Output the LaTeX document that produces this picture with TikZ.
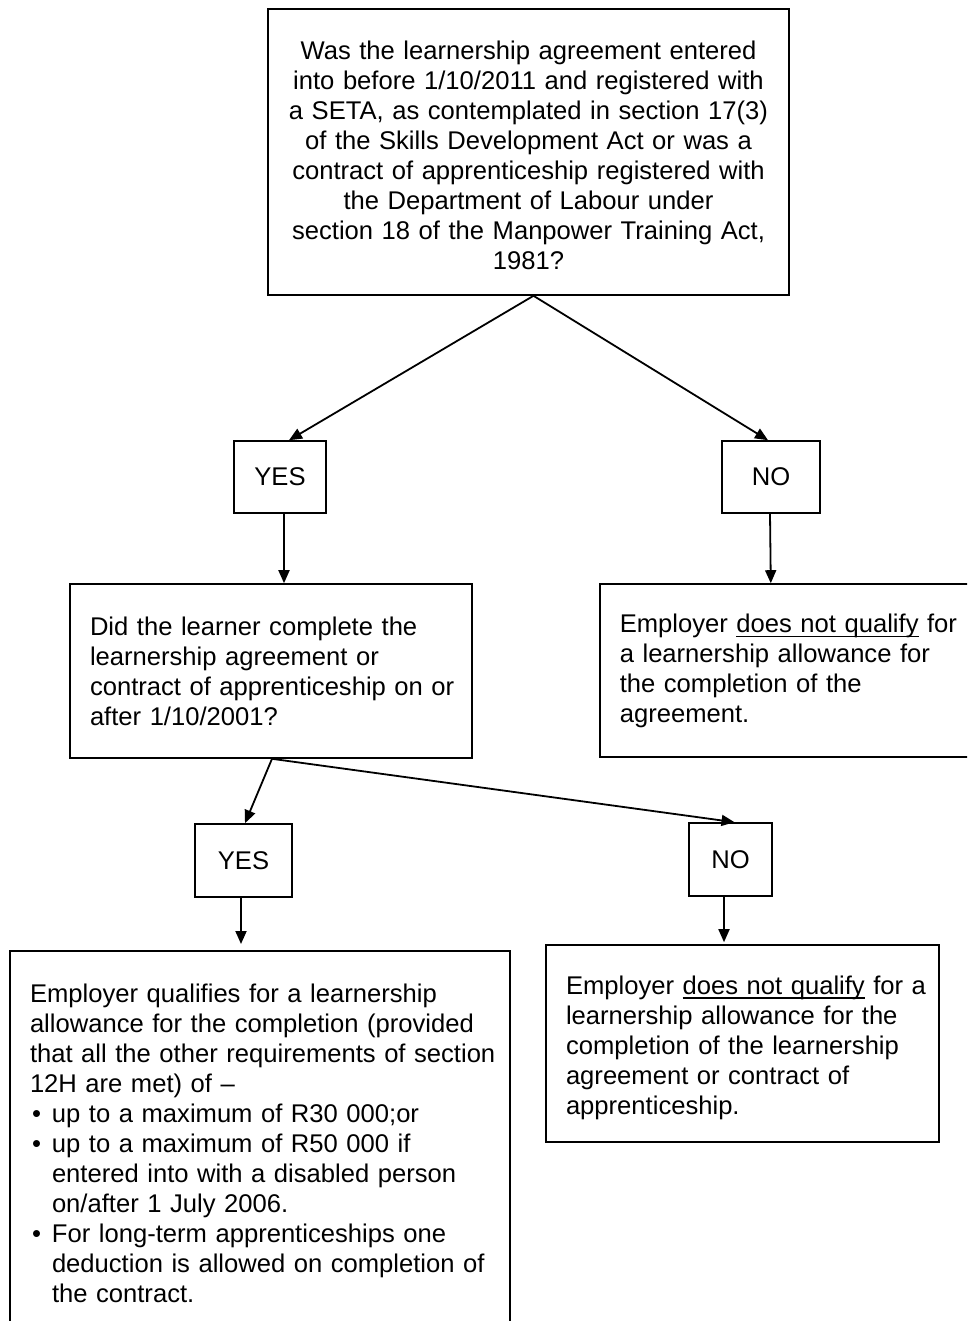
\documentclass[tikz,border=0pt]{standalone}
\usepackage{fontspec}
\setmainfont{Liberation Sans}
\usetikzlibrary{arrows.meta}
\newcommand\undl[1]{\setbox0\hbox{#1}\rlap{\rule[-4pt]{\wd0}{1.4pt}}\box0\relax}
\newcommand\tln[1]{\mbox{#1}}
\newcommand\bul{\makebox[22pt][l]{\hspace{2pt}\textbullet}}
\begin{document}
\begin{tikzpicture}[x=1pt,y=-1pt,
 box/.style={draw,line width=1.6pt,inner sep=0pt},
 tbox/.style={draw,line width=1.6pt,inner xsep=20pt,align=left},
 arr/.style={line width=1.8pt,-{Triangle[length=13pt,width=11pt]}},
 font=\fontsize{25.6}{30}\selectfont]
\clip (0,0) rectangle (967,1321);
\fill[white] (0,0) rectangle (967,1321);

\node[box, minimum width=521pt, minimum height=286pt, text width=481pt, text height=24.3pt, align=center] (q1) at (528.5,152)
 {\tln{Was the learnership agreement entered}\\
  \tln{into before 1/10/2011 and registered with}\\
  \tln{a SETA, as contemplated in section 17(3)}\\
  \tln{of the Skills Development Act or was a}\\
  \tln{contract of apprenticeship registered with}\\
  \tln{the Department of Labour under}\\
  \tln{section 18 of the Manpower Training Act,}\\
  \tln{1981?}};

\node[box, minimum width=92pt, minimum height=72pt] (y1) at (280,477) {YES};
\node[box, minimum width=98pt, minimum height=72pt] (n1) at (771,477) {NO};

\node[tbox, text width=362pt, minimum height=174pt] (q2) at (271,671)
 {\tln{Did the learner complete the}\\
  \tln{learnership agreement or}\\
  \tln{contract of apprenticeship on or}\\
  \tln{after 1/10/2001?}};

\node[tbox, text width=360pt, minimum height=173pt, text height=20.3pt, anchor=west] (r1) at (599,670.5)
 {\tln{Employer \undl{does not qualify} for}\\
  \tln{a learnership allowance for}\\
  \tln{the completion of the}\\
  \tln{agreement.}};

\node[box, minimum width=97pt, minimum height=73pt] (y2) at (243.5,860.5) {YES};
\node[box, minimum width=83pt, minimum height=73pt] (n2) at (730.5,859.5) {NO};

\node[tbox, text width=460pt, inner ysep=33pt, anchor=north] (bl) at (260,950)
 {\tln{Employer qualifies for a learnership}\\
  \tln{allowance for the completion (provided}\\
  \tln{that all the other requirements of section}\\
  \tln{12H are met) of --}\\
  \tln{\bul up to a maximum of R30 000;or}\\
  \tln{\bul up to a maximum of R50 000 if}\\
  \tln{\hspace*{22pt}entered into with a disabled person}\\
  \tln{\hspace*{22pt}on/after 1 July 2006.}\\
  \tln{\bul For long-term apprenticeships one}\\
  \tln{\hspace*{22pt}deduction is allowed on completion of}\\
  \tln{\hspace*{22pt}the contract.}};

\node[tbox, text width=353pt, minimum height=197pt, text height=27.3pt] (br) at (742.5,1043.5)
 {\tln{Employer \undl{does not qualify} for a}\\
  \tln{learnership allowance for the}\\
  \tln{completion of the learnership}\\
  \tln{agreement or contract of}\\
  \tln{apprenticeship.}};

\draw[arr] ([xshift=5pt]q1.south) -- ([xshift=9pt]y1.north);
\draw[arr] ([xshift=5pt]q1.south) -- ([xshift=-3pt]n1.north);
\draw[arr] ([xshift=4pt]y1.south) -- ([xshift=13pt]q2.north);
\draw[arr] ([xshift=-1pt]n1.south) -- ([xshift=-29pt]r1.north);
\draw[arr] ([xshift=1pt]q2.south) -- ([xshift=1.5pt]y2.north);
\draw[arr] ([xshift=1pt]q2.south) -- ([xshift=4pt]n2.north);
\draw[arr, shorten >=6pt] ([xshift=-2.5pt]y2.south) -- ([xshift=-19pt]bl.north);
\draw[arr, shorten >=2pt] ([xshift=-6.5pt]n2.south) -- ([xshift=-18.5pt]br.north);
\end{tikzpicture}
\end{document}
